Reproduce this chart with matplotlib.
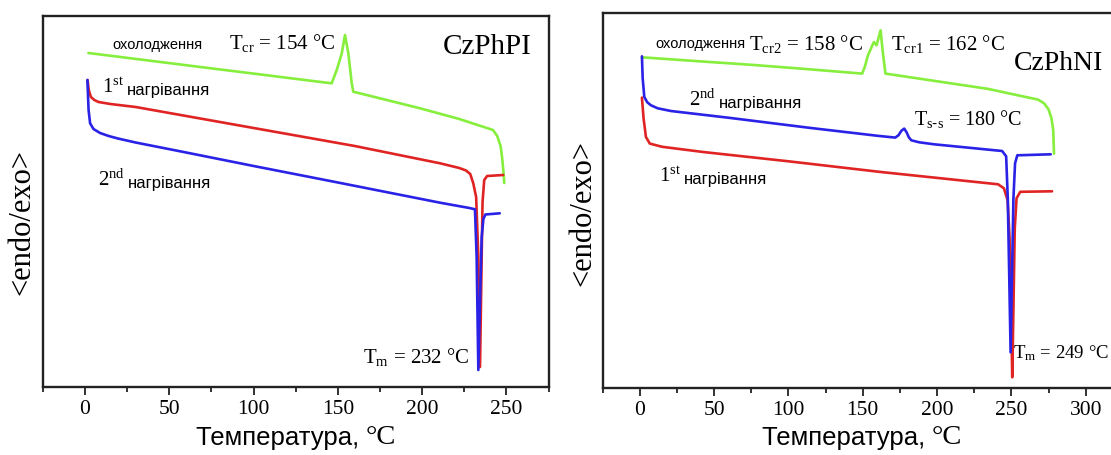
import matplotlib
matplotlib.use("Agg")
import matplotlib.pyplot as plt
from matplotlib.ticker import MultipleLocator

SERIF = "Liberation Serif"
SANS = "Liberation Sans"
GREEN = "#86ee3c"
RED = "#e02424"
BLUE = "#2a22e6"

# ---------------- Left panel: CzPhPI ----------------
pi_cool_T = [2, 40, 77, 110, 127.5, 140, 146.3, 149.3, 152.3, 154.2, 156.2, 158.2, 159.1,
             167, 198.7, 222, 242, 244.5, 246.5, 247.5, 248.2, 248.7]
pi_cool_y = [334, 326, 318.2, 311.3, 307.6, 305, 303.7, 317, 333.7, 352, 333.7, 303.7, 295.3,
             292, 278.7, 268, 257, 251, 241, 228, 215, 204]

pi_h1_T = [1.5, 2.2, 3.5, 5.5, 8, 15, 30, 100, 160, 210.6, 222, 226, 228.5, 230.3, 232,
           233.3, 234.3, 235.2, 235.8, 236.8, 238.5, 248.1]
pi_h1_y = [307, 297, 290, 287, 285, 283, 280, 259, 241, 223.7, 219, 216.5, 213, 203.7, 190,
           130, 20, 120, 185, 207, 211, 212]

pi_h2_T = [1.4, 2.1, 3, 5, 8.9, 14, 19.5, 30, 60, 100, 150, 210.6, 228, 231.3, 232.3, 233.3,
           234.5, 235.3, 236.3, 237.5, 246]
pi_h2_y = [307, 277, 263.7, 258, 254, 251, 248.5, 244.5, 234.5, 221, 204.5, 184.3, 179, 177.7,
           130, 17, 100, 150, 168, 172.5, 173.7]

# ---------------- Right panel: CzPhNI ----------------
ni_cool_T = [1.4, 40, 75, 110, 149.6, 151.5, 153.5, 157.5, 159.3, 162, 163.5, 165.3,
             234, 267.9, 272, 275, 277, 278.2, 278.7]
ni_cool_y = [331, 327, 323.5, 319.5, 314.7, 322, 333, 346.3, 343, 358, 336, 314.7,
             299.5, 288.7, 285, 279, 270, 258, 234.7]

ni_h1_T = [1.4, 2.5, 4.1, 6.7, 15, 42.6, 100, 162.2, 241.1, 245, 247.5, 248.8, 249.8,
           250.6, 251.4, 252.3, 253.5, 256, 277.4]
ni_h1_y = [290.7, 270, 251.3, 244.7, 241.5, 236.3, 227, 216.3, 204, 200, 188, 150, 80,
           11, 80, 160, 190, 196.5, 197]

ni_h2_T = [1.4, 1.9, 3, 5, 7.5, 12, 20.9, 60, 114, 160, 171.9, 174, 176, 177.9, 179.5,
           181, 182.7, 188, 198, 243.8, 246.5, 247.6, 248.6, 249.5, 250.4, 251.4, 252.5,
           254, 276.5]
ni_h2_y = [332, 310, 291.3, 286, 283, 280, 277.3, 270.5, 260.5, 252.5, 250.7, 253, 257.5,
           259.7, 256, 251, 248, 246, 244, 237.3, 232, 190, 110, 36, 110, 190, 225,
           233, 234]

x_ticks_major = 50
x_ticks_minor = 25

W, H = 1111, 455
fig = plt.figure(figsize=(W / 100, H / 100), dpi=100)
fig.patch.set_facecolor("white")


def px_axes(left, top, right, bottom):
    return fig.add_axes([left / W, 1 - bottom / H, (right - left) / W, (bottom - top) / H])


axL = px_axes(42.9, 16, 549.3, 387)
axR = px_axes(602.7, 13.3, 1122.8, 388.3)


def style(ax, xmax, ymax):
    ax.set_xlim(-25, xmax)
    ax.set_ylim(0, ymax)
    ax.set_yticks([])
    ax.xaxis.set_major_locator(MultipleLocator(x_ticks_major))
    ax.xaxis.set_minor_locator(MultipleLocator(x_ticks_minor))
    ax.tick_params(axis="x", which="major", direction="out", length=6, width=1.3,
                   labelsize=15.5, pad=3, labelfontfamily=SERIF, color="#222222")
    ax.tick_params(axis="x", which="minor", direction="out", length=3.5, width=1.3,
                   color="#222222")
    for s in ax.spines.values():
        s.set_linewidth(1.7)
        s.set_color("#222222")


style(axL, 275.4, 371)
style(axR, 325, 375)

lw = 1.9
for ax, data in ((axL, [(pi_cool_T, pi_cool_y, GREEN), (pi_h1_T, pi_h1_y, RED),
                        (pi_h2_T, pi_h2_y, BLUE)]),
                 (axR, [(ni_cool_T, ni_cool_y, GREEN), (ni_h1_T, ni_h1_y, RED),
                        (ni_h2_T, ni_h2_y, BLUE)])):
    for T, y, c in data:
        ax.plot(T, y, color=c, lw=lw, solid_joinstyle="round", solid_capstyle="round")


def heat_label(ax, x, y, num, sup):
    t1 = ax.text(x, y, r"$\mathregular{%s^{%s}}$" % (num, sup), fontfamily=SERIF,
                 fontsize=15, ha="left", va="center")
    ax.annotate("нагрівання", xy=(1, 0), xycoords=t1, xytext=(2, 0),
                textcoords="offset points", fontfamily=SANS, fontsize=12,
                ha="left", va="bottom")


def temp_label(ax, x, y, s, size=15, ha="left"):
    ax.text(x, y, s, fontfamily=SERIF, fontsize=size, ha=ha, va="center")


# Left annotations
axL.text(42.8, 342, "охолодження", fontfamily=SANS, fontsize=10.5, ha="center", va="center")
temp_label(axL, 85.2, 343.7, r"$\mathregular{T_{cr}}$ = 154 °C")
axL.text(265, 340, "CzPhPI", fontfamily=SERIF, fontsize=21, ha="right", va="center")
heat_label(axL, 10, 298.7, "1", "st")
heat_label(axL, 7.8, 207, "2", "nd")
temp_label(axL, 164.6, 30.3, r"$\mathregular{T_{m}}$ = 232 °C")

# Right annotations
axR.text(40.8, 344, "охолодження", fontfamily=SANS, fontsize=10.5, ha="center", va="center")
temp_label(axR, 73.4, 344.7, r"$\mathregular{T_{cr2}}$ = 158 °C")
temp_label(axR, 169.3, 344.7, r"$\mathregular{T_{cr1}}$ = 162 °C")
axR.text(312.0, 324.7, "CzPhNI", fontfamily=SERIF, fontsize=20, ha="right", va="center")
heat_label(axR, 33.3, 288, "2", "nd")
temp_label(axR, 184.3, 269.7, r"$\mathregular{T_{s\text{-}s}}$ = 180 °C", size=14.5)
heat_label(axR, 12.7, 211.3, "1", "st")
temp_label(axR, 250.8, 34.7, r"$\mathregular{T_{m}}$ = 249 °C", size=13.5)

# Axis labels
fig.text(22 / W, 1 - 222 / H, "<endo/exo>", rotation=90, fontfamily=SERIF, fontsize=22,
         ha="center", va="center")
fig.text(583 / W, 1 - 213 / H, "<endo/exo>", rotation=90, fontfamily=SERIF, fontsize=22,
         ha="center", va="center")


def xlabel_group(cx, cy):
    t1 = fig.text(0, 1 - cy / H, "Температура, ", fontfamily=SANS, fontsize=18.5,
                  ha="left", va="center")
    t2 = fig.text(0, 0, "°C", fontfamily=SERIF, fontsize=20.5, ha="left", va="bottom")
    fig.canvas.draw()
    r = fig.canvas.get_renderer()
    b1 = t1.get_window_extent(r)
    b2 = t2.get_window_extent(r)
    total = b1.width + b2.width
    x0 = cx - total / 2
    t1.set_position((x0 / W, 1 - cy / H))
    b1 = t1.get_window_extent(r)
    t2.set_position(((x0 + b1.width) / W, b1.y0 / H))


xlabel_group(296, 438)
xlabel_group(862, 438)

fig.savefig("out.png", dpi=100, facecolor="white")
